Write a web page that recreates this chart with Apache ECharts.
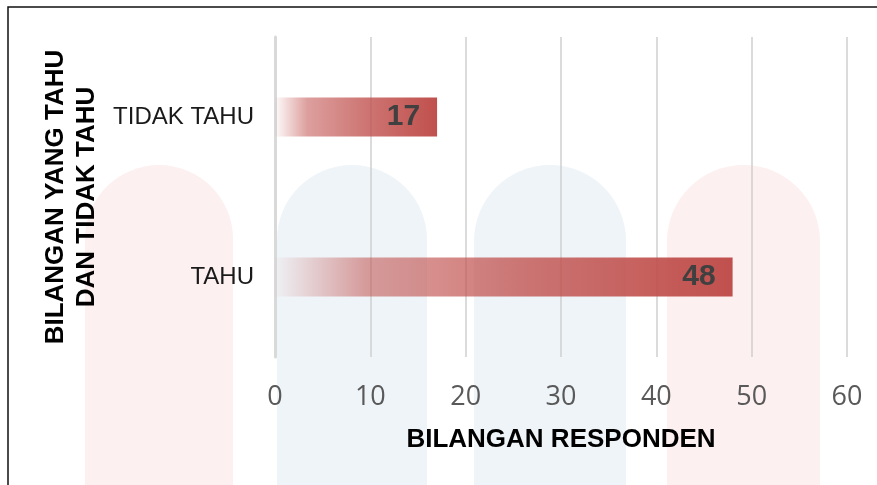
<!DOCTYPE html>
<html>
<head>
<meta charset="utf-8">
<script src="https://cdn.jsdelivr.net/npm/echarts@6/dist/echarts.min.js"></script>
<style>
  html, body { margin: 0; padding: 0; background: #fff; }
  #chart { width: 877px; height: 485px; }
</style>
</head>
<body>
<div id="chart"></div>
<script>
  // data
  var categories = ['TIDAK TAHU', 'TAHU'];
  var responden = [17, 48];
  var xTicks = [0, 10, 20, 30, 40, 50, 60];

  var chart = echarts.init(document.getElementById('chart'));

  // pale watermark shapes behind the plot
  var wmRed = '#fdf0f0';
  var wmBlue = '#eff4f8';
  function blob(x, w, color) {
    return {
      type: 'rect', z: -10, silent: true,
      shape: { x: x, y: 165, width: w, height: 340, r: [w / 2, w / 2, 0, 0] },
      style: { fill: color }
    };
  }

  chart.setOption({
    backgroundColor: '#fff',
    animation: false,
    graphic: [
      blob(85, 148, wmRed),
      blob(277, 150, wmBlue),
      blob(474, 152, wmBlue),
      blob(667, 153, wmRed),
      {
        type: 'rect', z: 100, silent: true,
        shape: { x: 8, y: 7, width: 900, height: 500 },
        style: { fill: 'none', stroke: '#111', lineWidth: 1.5 }
      }
    ],
    grid: { left: 275, right: 30, top: 37, bottom: 128 },
    xAxis: {
      type: 'value',
      min: xTicks[0],
      max: xTicks[xTicks.length - 1],
      interval: 10,
      axisLine: { show: false },
      axisTick: { show: false },
      splitLine: { show: true, lineStyle: { color: '#cfcfcf', width: 1.5 } },
      axisLabel: {
        margin: 27,
        fontFamily: '"Open Sans", sans-serif',
        fontSize: 27,
        color: '#595959'
      },
      name: 'BILANGAN RESPONDEN',
      nameLocation: 'middle',
      nameGap: 70,
      nameTextStyle: {
        fontFamily: '"Liberation Sans", Arial, sans-serif',
        fontSize: 26,
        fontWeight: 'bold',
        color: '#000'
      }
    },
    yAxis: {
      type: 'category',
      data: categories,
      inverse: true,
      axisLine: { show: true, lineStyle: { color: '#d9d9d9', width: 3 } },
      axisTick: { show: false },
      axisLabel: {
        margin: 21,
        fontFamily: '"Liberation Sans", Arial, sans-serif',
        fontSize: 24,
        color: '#1a1a1a'
      },
      name: 'BILANGAN YANG TAHU\nDAN TIDAK TAHU',
      nameLocation: 'middle',
      nameRotate: 90,
      nameGap: 168,
      nameTextStyle: {
        fontFamily: '"Liberation Sans", Arial, sans-serif',
        fontSize: 26,
        fontWeight: 'bold',
        lineHeight: 31,
        color: '#000'
      }
    },
    series: [{
      type: 'bar',
      data: responden,
      barWidth: 39,
      itemStyle: {
        color: new echarts.graphic.LinearGradient(0, 0, 1, 0, [
          { offset: 0, color: 'rgba(192,80,77,0.02)' },
          { offset: 0.2, color: 'rgba(192,80,77,0.55)' },
          { offset: 0.55, color: 'rgba(192,80,77,0.78)' },
          { offset: 1, color: 'rgba(192,80,77,1)' }
        ])
      },
      label: {
        show: true,
        position: 'insideRight',
        distance: 17,
        fontFamily: '"Liberation Sans", Arial, sans-serif',
        fontSize: 30,
        fontWeight: 'bold',
        color: '#404040'
      }
    }]
  });
</script>
</body>
</html>
